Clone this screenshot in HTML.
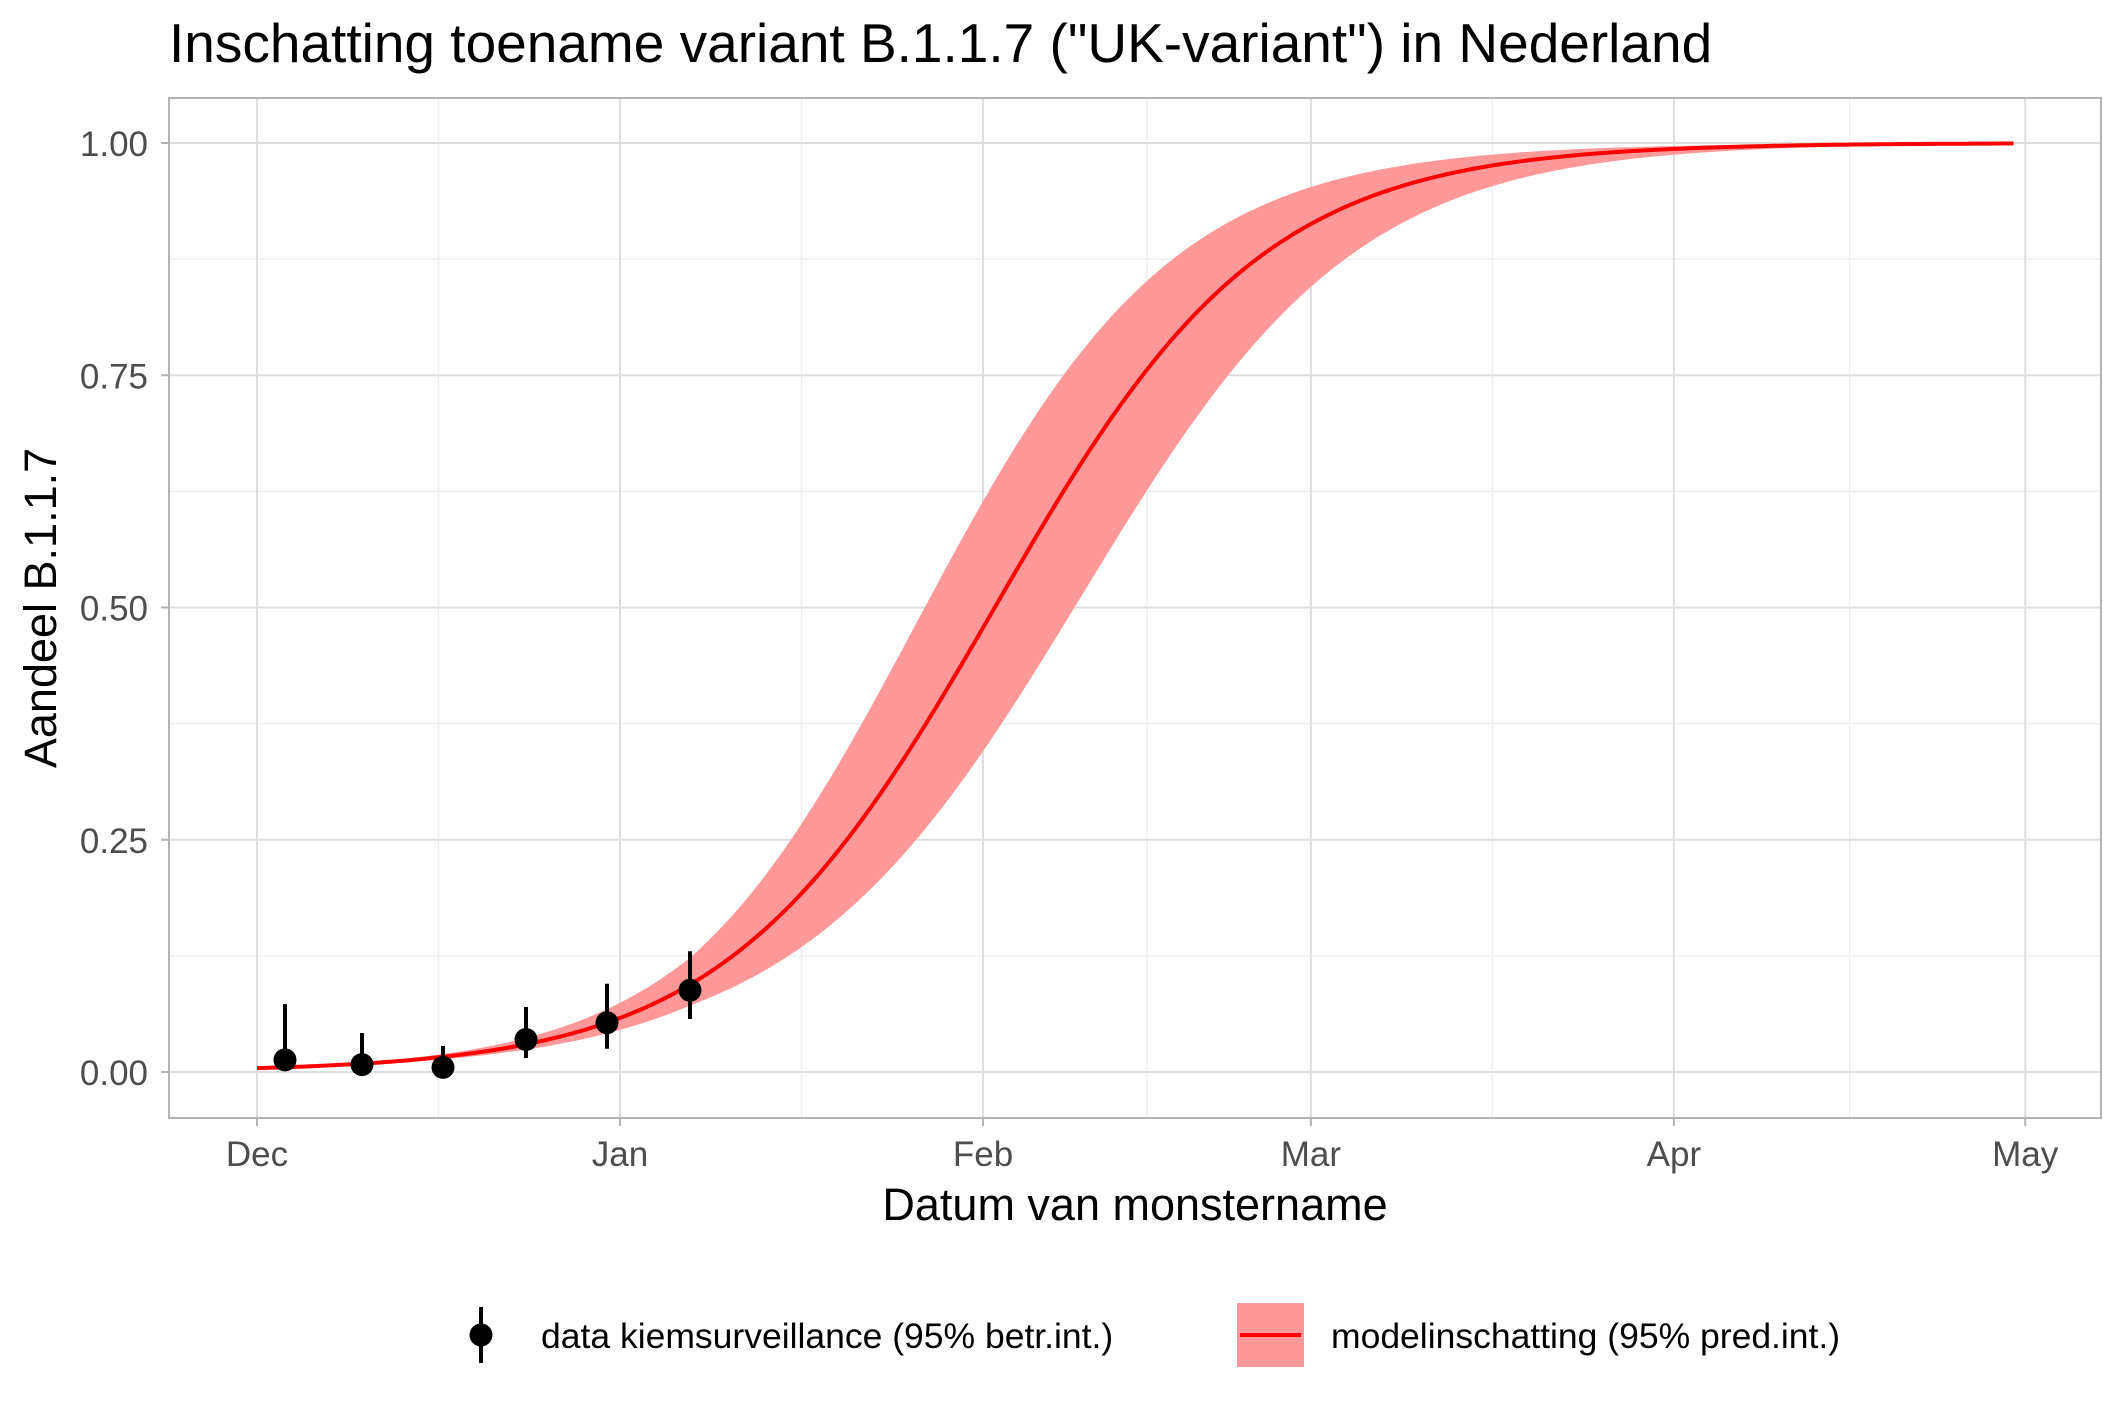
<!DOCTYPE html>
<html><head><meta charset="utf-8"><style>
html,body{margin:0;padding:0;background:#fff;}
svg{display:block;font-family:"Liberation Sans",Arial,sans-serif;}
</style></head><body>
<svg id="s" width="2125" height="1417" viewBox="0 0 2125 1417" xmlns="http://www.w3.org/2000/svg">
<rect width="2125" height="1417" fill="#fff"/>
<text x="169" y="62" font-size="55" fill="#000">Inschatting toename variant B.1.1.7 ("UK-variant") in Nederland</text>
<g id="grid"></g>
<path id="band" fill="#ff9999" stroke="none"/>
<path id="line" fill="none" stroke="#ff0000" stroke-width="4"/>
<g id="pts"></g>
<rect x="169" y="98" width="1932" height="1020" fill="none" stroke="#b3b3b3" stroke-width="2"/>
<g id="ticks" font-size="35" fill="#4d4d4d"></g>
<text x="1135" y="1220" font-size="45" text-anchor="middle" fill="#000">Datum van monstername</text>
<text transform="translate(56,608) rotate(-90)" font-size="45" text-anchor="middle" fill="#000">Aandeel B.1.1.7</text>
<line x1="481" y1="1307" x2="481" y2="1363" stroke="#000" stroke-width="4"/>
<circle cx="481" cy="1335" r="11.5" fill="#000"/>
<text x="541" y="1348" font-size="35.5" fill="#000">data kiemsurveillance (95% betr.int.)</text>
<rect x="1237" y="1303" width="67" height="64" fill="#ff9999"/>
<line x1="1240" y1="1335" x2="1301" y2="1335" stroke="#ff0000" stroke-width="4"/>
<text x="1331" y="1348" font-size="35.5" fill="#000">modelinschatting (95% pred.int.)</text>
</svg>
<script>
var NS="http://www.w3.org/2000/svg";
function X(d){return 257+d*11.71;}
function Y(p){return 1072-p*929;}
function el(t,a,par){var e=document.createElementNS(NS,t);for(var k in a)e.setAttribute(k,a[k]);document.getElementById(par).appendChild(e);return e;}
var maj=[0,31,62,90,121,151];
for(var i=0;i<maj.length-1;i++){var m=(maj[i]+maj[i+1])/2;el("line",{x1:X(m),x2:X(m),y1:98,y2:1118,stroke:"#ededed","stroke-width":1.5},"grid");}
for(var v=0.125;v<1;v+=0.25){el("line",{x1:169,x2:2101,y1:Y(v),y2:Y(v),stroke:"#ededed","stroke-width":1.5},"grid");}
maj.forEach(function(d){el("line",{x1:X(d),x2:X(d),y1:98,y2:1118,stroke:"#dedede","stroke-width":2},"grid");});
[0,0.25,0.5,0.75,1].forEach(function(v){el("line",{x1:169,x2:2101,y1:Y(v),y2:Y(v),stroke:"#dedede","stroke-width":2},"grid");
 el("line",{x1:161,x2:169,y1:Y(v),y2:Y(v),stroke:"#b3b3b3","stroke-width":2},"ticks");
 var t=el("text",{x:148,y:Y(v)+13,"text-anchor":"end"},"ticks");t.textContent=v.toFixed(2);});
var mn=["Dec","Jan","Feb","Mar","Apr","May"];
maj.forEach(function(d,i){el("line",{x1:X(d),x2:X(d),y1:1118,y2:1126,stroke:"#b3b3b3","stroke-width":2},"ticks");
 var t=el("text",{x:X(d),y:1166,"text-anchor":"middle"},"ticks");t.textContent=mn[i];});
function sig(z){return 1/(1+Math.exp(-z));}
var up=[],lo=[],ln=[];
for(var d=0;d<=150;d+=0.5){var c=0.087*(d-63);
 var w=d>=37?0.3+0.4*(1-Math.exp(-(d-37)/25)):0.08+0.22*d/37;
 up.push(X(d).toFixed(1)+","+Y(sig(c+w)).toFixed(1));lo.push(X(d).toFixed(1)+","+Y(sig(c-w)).toFixed(1));ln.push(X(d).toFixed(1)+","+Y(sig(c)).toFixed(1));}
document.getElementById("band").setAttribute("d","M"+up.join("L")+"L"+lo.reverse().join("L")+"Z");
document.getElementById("line").setAttribute("d","M"+ln.join("L"));
var pts=[[285,0.013,0.073,0.003],[362,0.008,0.042,0.002],[443,0.005,0.028,0.0],[526,0.035,0.07,0.015],[607,0.053,0.095,0.025],[690,0.088,0.13,0.057]];
pts.forEach(function(p){el("line",{x1:p[0],x2:p[0],y1:Y(p[2]),y2:Y(p[3]),stroke:"#000","stroke-width":4},"pts");
 el("circle",{cx:p[0],cy:Y(p[1]),r:11.5,fill:"#000"},"pts");});
</script>
</body></html>
